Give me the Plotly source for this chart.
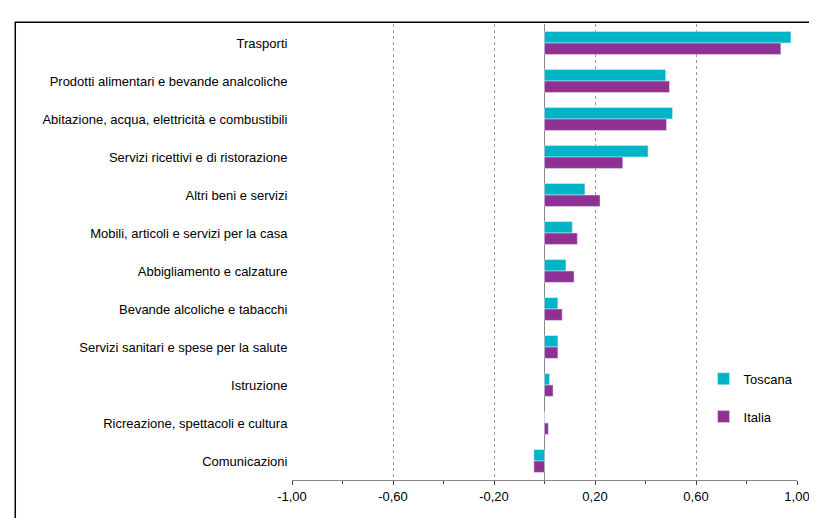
import plotly.graph_objects as go

categories = ["Trasporti","Prodotti alimentari e bevande analcoliche","Abitazione, acqua, elettricità e combustibili",
 "Servizi ricettivi e di ristorazione","Altri beni e servizi","Mobili, articoli e servizi per la casa",
 "Abbigliamento e calzature","Bevande alcoliche e tabacchi","Servizi sanitari e spese per la salute",
 "Istruzione","Ricreazione, spettacoli e cultura","Comunicazioni"]
toscana = [0.976,0.48,0.507,0.41,0.16,0.11,0.085,0.053,0.053,0.02,0.0,-0.042]
italia = [0.936,0.495,0.483,0.31,0.22,0.13,0.117,0.07,0.053,0.034,0.015,-0.042]
tickvals = [-1.0,-0.6,-0.2,0.2,0.6,1.0]
ticktext = ["-1,00","-0,60","-0,20","0,20","0,60","1,00"]

fig = go.Figure()
fig.add_bar(y=categories, x=toscana, orientation="h", name="Toscana", marker_color="#00B4C8", width=0.3, offset=-0.3, legendgroup="t")
fig.add_bar(y=categories, x=italia, orientation="h", name="Italia", marker_color="#8E3192", width=0.3, offset=0.0, legendgroup="i")
fig.update_layout(width=817, height=518, paper_bgcolor="white", plot_bgcolor="white",
    margin=dict(l=284, r=28, t=16, b=46), barmode="group",
    font=dict(family="Liberation Sans, Arial", size=13, color="black"),
    legend=dict(x=0.815, y=0.255, xanchor="left", yanchor="top", tracegroupgap=18, font=dict(size=13)),
    shapes=[dict(type="rect", xref="paper", yref="paper", x0=-0.548, x1=1.048, y0=-0.15, y1=1.004, line=dict(color="black", width=1.5))])
fig.update_xaxes(range=[-1,1], tickvals=tickvals, ticktext=ticktext, showgrid=True, gridcolor="#999", griddash="dot",
    showline=True, linecolor="#888", ticks="outside", ticklen=4, zeroline=True, zerolinecolor="#888", zerolinewidth=1,
    minor=dict(tickvals=[-0.8,-0.4,0,0.4,0.8], ticks="outside", ticklen=3, showgrid=False))
fig.update_yaxes(autorange="reversed", showline=False, ticks="", ticksuffix=" ")
fig.write_html("out.html")
